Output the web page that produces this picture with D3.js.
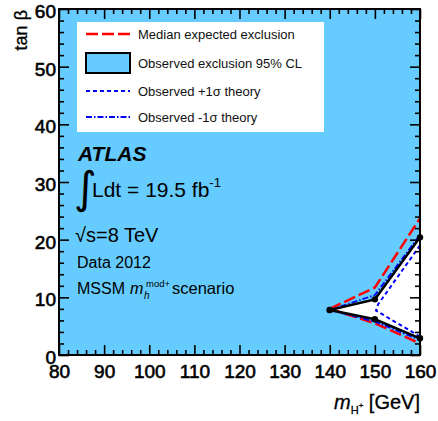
<!DOCTYPE html>
<html>
<head>
<meta charset="utf-8">
<script src="https://cdn.jsdelivr.net/npm/d3@7"></script>
<style>
  body { margin: 0; background: #fff; }
  svg { display: block; font-family: "Liberation Sans", Arial, sans-serif; }
</style>
</head>
<body>
<svg width="438" height="421"></svg>
<script>
// tick labels
const xTicks = [80, 90, 100, 110, 120, 130, 140, 150, 160]
const yTicks = [0, 10, 20, 30, 40, 50, 60]

// charged Higgs mass points of the limit contours
const massPoints = [140, 150, 160]
// observed 95% CL exclusion, edges of the allowed wedge
const obsUpper = [7.8, 9.65, 20.4]
const obsLower = [7.8, 6.2, 2.9]
// median expected
const expUpper = [8.0, 11.7, 23.7]
const expLower = [8.0, 5.5, 2.0]
// observed -1 sigma theory
const minusUpper = [7.8, 10.4, 20.8]
const minusLower = [7.8, 5.8, 2.6]
// observed +1 sigma theory (closed only between 150 and 160)
const plusMass = [160, 150.76, 150.25, 160]
const plusTan = [19.0, 8.84, 7.7, 3.2]

const legendItems = [
  {label: 'Median expected exclusion', kind: 'exp'},
  {label: 'Observed exclusion 95% CL', kind: 'obs'},
  {label: 'Observed +1\u03c3 theory', kind: 'plus'},
  {label: 'Observed -1\u03c3 theory', kind: 'minus'}
]

const fillBlue = '#66ccff'
const plotLeft = 59, plotRight = 420, plotTop = 9, plotBottom = 355

const svg = d3.select('svg')

const xScale = d3.scaleLinear().domain([80, 160]).range([plotLeft, plotRight])
const yScale = d3.scaleLinear().domain([0, 60]).range([plotBottom, plotTop])

const styles = {
  exp:   {stroke: '#ff0000', width: 2.5, dash: '12,4'},
  plus:  {stroke: '#0000ff', width: 2, dash: '4,3'},
  minus: {stroke: '#0000ff', width: 1.8, dash: '6,2,1.5,2'},
  obs:   {stroke: '#000000', width: 2.5, dash: null}
}

// excluded area = whole plane except the wedge
svg.append('rect')
   .attr('x', plotLeft).attr('y', plotTop)
   .attr('width', plotRight - plotLeft).attr('height', plotBottom - plotTop)
   .attr('fill', fillBlue)

const line = d3.line().x(d => xScale(d[0])).y(d => yScale(d[1]))

const wedge = massPoints.map((m, i) => [m, obsUpper[i]])
  .concat(massPoints.map((m, i) => [m, obsLower[i]]).reverse())

svg.append('path')
   .attr('d', line(wedge) + 'Z')
   .attr('fill', '#ffffff')

const drawCurve = (xs, ys, kind) => {
  const s = styles[kind]
  svg.append('path')
     .attr('d', line(xs.map((x, i) => [x, ys[i]])))
     .attr('fill', 'none')
     .attr('stroke', s.stroke)
     .attr('stroke-width', s.width)
     .attr('stroke-dasharray', s.dash)
}

drawCurve(massPoints, expUpper, 'exp')
drawCurve(massPoints, expLower, 'exp')
drawCurve(plusMass, plusTan, 'plus')
drawCurve(massPoints, minusUpper, 'minus')
drawCurve(massPoints, minusLower, 'minus')
drawCurve(massPoints, obsUpper, 'obs')
drawCurve(massPoints, obsLower, 'obs')

const obsPoints = massPoints.map((m, i) => [m, obsUpper[i]])
  .concat(massPoints.map((m, i) => [m, obsLower[i]]))
svg.append('g')
   .selectAll('circle')
   .data(obsPoints)
   .join('circle')
   .attr('cx', d => xScale(d[0]))
   .attr('cy', d => yScale(d[1]))
   .attr('r', 3.2)
   .attr('fill', '#000')

// axes, ticks pointing inwards on all four sides
const minorX = d3.range(80, 161, 2).filter(v => v % 10 !== 0)
const minorY = d3.range(0, 61, 2).filter(v => v % 10 !== 0)

const styleAxis = (g) => {
  g.select('.domain').remove()
  g.selectAll('.tick line').attr('stroke', '#000').attr('stroke-width', 1.6)
  g.selectAll('.tick text').attr('fill', '#000').style('font-size', '19px')
   .style('font-family', '"Liberation Sans", Arial, sans-serif')
   .attr('stroke', '#000').attr('stroke-width', 0.6)
}

svg.append('g')
   .attr('transform', `translate(0, ${plotBottom})`)
   .call(d3.axisBottom(xScale).tickValues(xTicks).tickSize(-10).tickSizeOuter(0).tickPadding(10))
   .call(styleAxis)
svg.append('g')
   .attr('transform', `translate(0, ${plotBottom})`)
   .call(d3.axisBottom(xScale).tickValues(minorX).tickSize(-5).tickSizeOuter(0).tickFormat(''))
   .call(styleAxis)
svg.append('g')
   .attr('transform', `translate(0, ${plotTop})`)
   .call(d3.axisTop(xScale).tickValues(xTicks).tickSize(-10).tickSizeOuter(0).tickFormat(''))
   .call(styleAxis)
svg.append('g')
   .attr('transform', `translate(0, ${plotTop})`)
   .call(d3.axisTop(xScale).tickValues(minorX).tickSize(-5).tickSizeOuter(0).tickFormat(''))
   .call(styleAxis)

const yAxisG = svg.append('g')
   .attr('transform', `translate(${plotLeft}, 0)`)
   .call(d3.axisLeft(yScale).tickValues(yTicks).tickSize(-10).tickSizeOuter(0).tickPadding(3))
   .call(styleAxis)
yAxisG.selectAll('.tick text').attr('dy', '0.45em')
svg.append('g')
   .attr('transform', `translate(${plotLeft}, 0)`)
   .call(d3.axisLeft(yScale).tickValues(minorY).tickSize(-5).tickSizeOuter(0).tickFormat(''))
   .call(styleAxis)
svg.append('g')
   .attr('transform', `translate(${plotRight}, 0)`)
   .call(d3.axisRight(yScale).tickValues(yTicks).tickSize(-10).tickSizeOuter(0).tickFormat(''))
   .call(styleAxis)
svg.append('g')
   .attr('transform', `translate(${plotRight}, 0)`)
   .call(d3.axisRight(yScale).tickValues(minorY).tickSize(-5).tickSizeOuter(0).tickFormat(''))
   .call(styleAxis)

svg.append('rect')
   .attr('x', plotLeft).attr('y', plotTop)
   .attr('width', plotRight - plotLeft).attr('height', plotBottom - plotTop)
   .attr('fill', 'none').attr('stroke', '#000').attr('stroke-width', 2)

// axis titles
svg.append('text')
   .attr('transform', `translate(27, 10)rotate(-90)`)
   .attr('text-anchor', 'end')
   .style('font-size', '18px')
   .attr('stroke', '#000').attr('stroke-width', 0.3)
   .text('tan \u03b2')

const xTitle = svg.append('text')
   .attr('x', plotRight).attr('y', 409)
   .attr('text-anchor', 'end')
   .style('font-size', '20px')
   .attr('stroke', '#000').attr('stroke-width', 0.3)
xTitle.append('tspan').style('font-style', 'italic').text('m')
xTitle.append('tspan').style('font-size', '11px').attr('dy', 5).text('H')
xTitle.append('tspan').style('font-size', '8px').attr('dy', -6).text('+')
xTitle.append('tspan').attr('dy', 1).text(' [GeV]')

// legend
const legend = svg.append('g')
legend.append('rect')
   .attr('x', 77).attr('y', 22).attr('width', 247).attr('height', 110)
   .attr('fill', '#fff')

const rowY = [34, 63, 91, 117]
legendItems.forEach((item, i) => {
  const y = rowY[i]
  const s = styles[item.kind]
  if (item.kind === 'obs') {
    legend.append('rect')
       .attr('x', 86).attr('y', y - 10).attr('width', 44).attr('height', 20)
       .attr('fill', fillBlue).attr('stroke', '#000').attr('stroke-width', 2)
  } else {
    legend.append('line')
       .attr('x1', 86).attr('x2', 130).attr('y1', y).attr('y2', y)
       .attr('stroke', s.stroke).attr('stroke-width', s.width)
       .attr('stroke-dasharray', s.dash)
  }
  legend.append('text')
     .attr('x', 138).attr('y', y + 5)
     .style('font-size', '13px')
     .attr('fill', '#111')
     .text(item.label)
})

// ATLAS label block
svg.append('text')
   .attr('x', 78).attr('y', 161)
   .style('font-size', '21px').style('font-weight', 'bold').style('font-style', 'italic')
   .text('ATLAS')

svg.append('text')
   .attr('x', 74).attr('y', 203)
   .style('font-size', '44px')
   .style('font-family', '"DejaVu Sans", sans-serif')
   .text('\u222b')

const lumi = svg.append('text')
   .attr('x', 92).attr('y', 197)
   .style('font-size', '21px')
lumi.append('tspan').text('Ldt = 19.5 fb')
lumi.append('tspan').style('font-size', '13px').attr('dy', -10).text('-1')

svg.append('text')
   .attr('x', 75).attr('y', 242)
   .style('font-size', '20px')
   .text('\u221as=8 TeV')

svg.append('text')
   .attr('x', 77).attr('y', 268)
   .style('font-size', '16px')
   .text('Data 2012')

const scen = svg.append('text')
   .attr('x', 77).attr('y', 294)
   .style('font-size', '16px')
scen.append('tspan').text('MSSM')
scen.append('tspan').attr('x', 130).style('font-style', 'italic').text('m')
scen.append('tspan').attr('x', 146).attr('dy', -7).style('font-size', '9.5px').text('mod+')
scen.append('tspan').attr('x', 144).attr('dy', 12).style('font-size', '10px').style('font-style', 'italic').text('h')
scen.append('tspan').attr('x', 172).attr('dy', -5).style('font-size', '16.5px').text('scenario')
</script>
</body>
</html>
